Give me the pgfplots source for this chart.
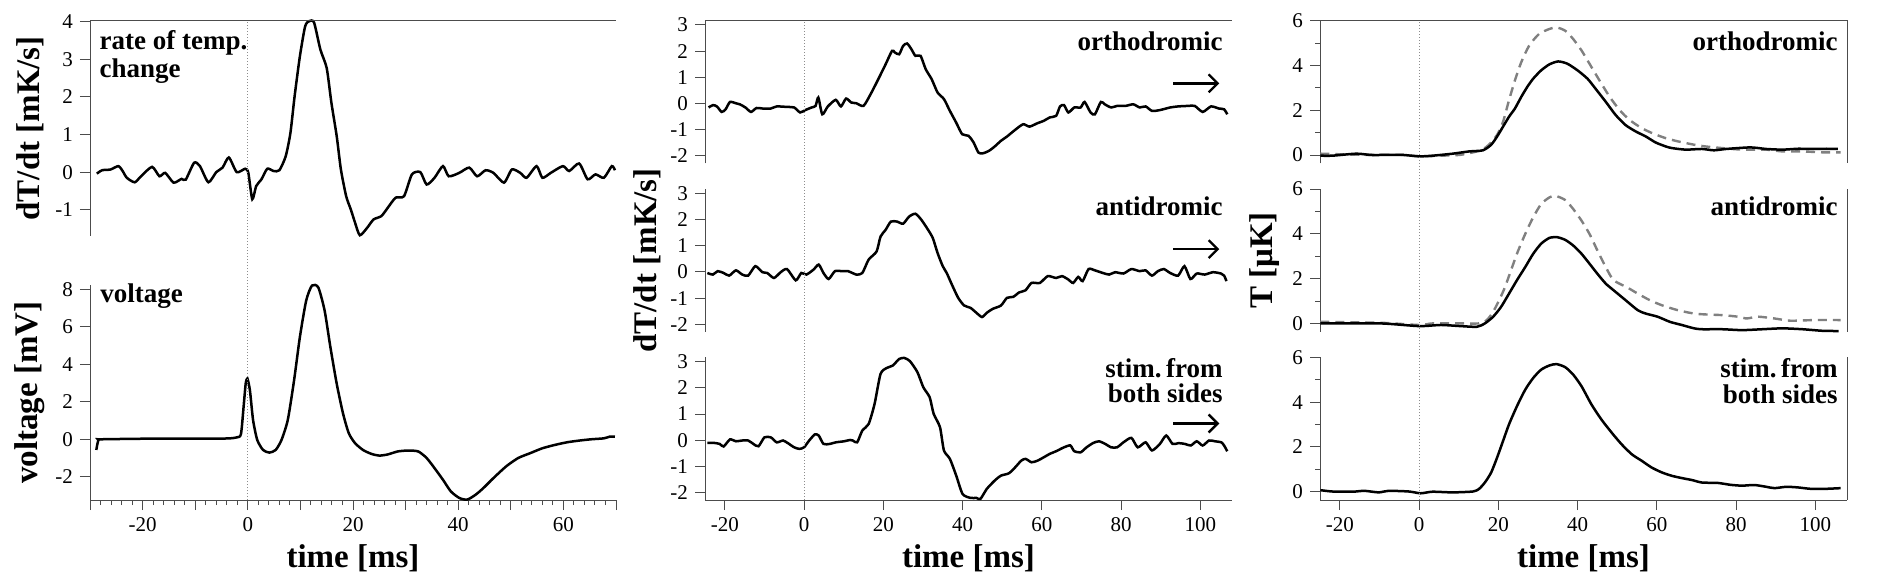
\documentclass[border=0pt]{standalone}
\usepackage{fontspec}
\setmainfont{Liberation Serif}
\usepackage{pgfplots}
\pgfplotsset{compat=1.18}
\usetikzlibrary{arrows.meta}

\pgfplotsset{
  panel/.style={scale only axis, clip=false,
    axis y line*=left,
    axis line style={black!70, line width=0.5pt},
    every tick/.style={black!70, line width=0.5pt},
    tick align=outside, major tick length=5pt, minor tick length=2.5pt,
    tick label style={font=\fontsize{10.5}{12}\selectfont},
    /pgf/number format/assume math mode=true,
    ylabel style={font=\fontsize{16.5}{18}\selectfont\bfseries, anchor=center},
    xlabel style={font=\fontsize{16.5}{18}\selectfont\bfseries,
      at={(axis description cs:0.5,0)}, anchor=center, yshift=-29pt}},
  mid/.style={panel, width=263.5pt, height=71.3pt, xmin=-25, xmax=108,
    ymin=-2.28, ymax=3.16, ytick={-2,...,3}},
  rgt/.style={panel, width=263.5pt, height=71.3pt, xmin=-25, xmax=108,
    ymin=-0.37, ymax=6.0, ytick={0,2,4,6}, minor y tick num=1},
  trace/.style={black, line width=1.25pt, mark=none, smooth, tension=0.4},
  model/.style={black!50, line width=1.2pt, mark=none, smooth, tension=0.4,
    dash pattern=on 4.5pt off 3pt}
}
\tikzset{
  ann/.style={font=\fontsize{13.5}{14}\selectfont\bfseries, inner sep=0pt},
  frameline/.style={black!70, line width=0.5pt},
  dir/.style={black, line width=1.2pt, -{Straight Barb[length=4.5pt,width=9pt]}}
}

\begin{document}
\begin{tikzpicture}
\useasboundingbox (0,0) rectangle (945pt,289.5pt);

% ---------------- left column ----------------
\begin{axis}[panel, at={(45pt,171.5pt)}, width=263pt, height=107.65pt,
  xmin=-30, xmax=70, ymin=-1.7, ymax=4.03, axis x line=none,
  ytick={-1,0,...,4},
  ylabel={dT/dt [mK/s]}, ylabel style={at={(axis description cs:-0.114,0.5)}}]
\addplot[trace] coordinates {
(-28.7,-0.04) (-27.7,0.05) (-26.1,0.07) (-24.6,0.16) (-23.8,0.03) (-23.0,-0.15)
(-21.5,-0.27) (-20.3,-0.11) (-18.2,0.14) (-16.8,-0.11) (-15.7,-0.02) (-14.1,-0.28)
(-12.6,-0.18) (-11.8,-0.2) (-10.2,0.25) (-9.1,0.16) (-7.5,-0.27) (-6.0,0.0)
(-4.8,0.12) (-3.6,0.39) (-2.1,0.0) (-0.5,0.09) (0.1,-0.02) (0.85,-0.72)
(1.6,-0.37) (2.6,-0.19) (3.7,0.09) (4.9,0.03) (6.0,0.05) (7.2,0.42) (8.1,1.04)
(8.9,2.02) (9.9,3.08) (10.9,3.88) (11.7,4.02) (12.6,3.98) (13.8,3.26) (15.0,2.77)
(15.9,1.84) (16.9,0.96) (17.7,0.07) (18.7,-0.64) (19.6,-1.0) (20.4,-1.35)
(21.3,-1.68) (22.7,-1.48) (23.9,-1.26) (25.4,-1.17) (26.6,-0.95) (28.1,-0.68)
(29.7,-0.64) (31.2,-0.06) (32.8,0.0) (34.0,-0.33) (35.5,-0.15) (37.1,0.16)
(38.2,-0.11) (40.2,-0.02) (42.1,0.12) (43.6,-0.11) (45.2,0.05) (46.7,-0.02)
(48.7,-0.28) (50.2,0.07) (51.8,-0.02) (53.0,-0.15) (54.9,0.16) (56.0,-0.15)
(57.6,-0.02) (59.9,0.16) (61.1,0.03) (63.0,0.23) (64.6,-0.19) (66.1,-0.06)
(67.7,-0.15) (69.2,0.16) (69.8,0.05)};
\draw[frameline] (rel axis cs:0,1) -- (rel axis cs:1,1);
\node[ann, anchor=base west] at (rel axis cs:0.0175,0.864) {rate of temp.};
\node[ann, anchor=base west] at (rel axis cs:0.0175,0.738) {change};
\coordinate (zLtop) at (axis cs:0,4.03);
\end{axis}

\begin{axis}[panel, at={(45pt,39.5pt)}, width=263pt, height=107.5pt,
  xmin=-30, xmax=70, ymin=-3.24, ymax=8.23, axis x line*=bottom,
  ytick={-2,0,...,8},
  xtick={-30,-20,...,70}, xticklabels={,-20,,0,,20,,40,,60,},
  minor x tick num=4,
  xlabel={time [ms]},
  ylabel={voltage [mV]}, ylabel style={at={(axis description cs:-0.114,0.5)}}]
\addplot[trace] coordinates {
(-28.8,-0.57) (-28.4,-0.04) (-27.7,0) (-16.0,0.04) (-4.4,0.04) (-2.1,0.1)
(-1.3,0.28) (-0.8,1.73) (-0.4,2.97) (-0.08,3.24) (0.4,2.62) (1.0,1.03)
(1.8,-0.04) (2.9,-0.57) (4.1,-0.71) (5.3,-0.57) (6.4,-0.04) (7.6,1.03)
(8.8,3.15) (9.9,5.45) (11.1,7.4) (12.2,8.2) (13.4,8.1) (14.6,6.87) (15.7,4.92)
(16.9,2.97) (18.1,1.38) (19.2,0.32) (20.4,-0.21) (21.9,-0.57) (23.5,-0.78)
(25.0,-0.87) (26.6,-0.81) (28.5,-0.65) (30.5,-0.6) (32.4,-0.65) (34.0,-1.0)
(35.5,-1.54) (37.1,-2.16) (38.6,-2.78) (40.2,-3.13) (41.7,-3.22) (43.3,-2.96)
(44.8,-2.6) (46.7,-2.07) (49.1,-1.45) (51.4,-1.0) (53.7,-0.74) (56.0,-0.48)
(58.4,-0.3) (60.7,-0.16) (63.0,-0.07) (65.3,0) (67.7,0.05) (68.8,0.14) (69.8,0.14)};
\node[ann, anchor=base west] at (rel axis cs:0.019,0.918) {voltage};
\coordinate (zLbot) at (axis cs:0,-3.24);
\end{axis}
\draw[black!45, densely dotted, line width=0.5pt] (zLbot) -- (zLtop);

% ---------------- middle column ----------------
\begin{axis}[mid, at={(352.5pt,207.85pt)}, axis x line=none]
\addplot[trace] coordinates {
(-24.1,-0.15) (-23.0,-0.06) (-22.0,-0.11) (-20.8,-0.32) (-19.8,-0.22) (-18.7,0.06)
(-17.2,0.01) (-16.2,-0.03) (-14.8,-0.15) (-13.4,-0.32) (-12.0,-0.17) (-10.5,-0.19)
(-8.4,-0.19) (-6.9,-0.11) (-4.3,-0.13) (-2.5,-0.15) (-1.0,-0.34) (0.3,-0.25)
(1.9,-0.15) (2.9,-0.09) (3.6,0.23) (4.6,-0.41) (6.0,-0.11) (8.0,0.14) (9.3,-0.11)
(10.6,0.19) (11.9,0.04) (13.2,0.01) (15.0,-0.09) (16.8,0.36) (18.3,0.8)
(20.4,1.44) (22.2,2.01) (22.9,1.95) (24.0,1.88) (25.0,2.2) (26.0,2.29)
(27.1,2.07) (28.1,1.82) (29.4,1.82) (30.7,1.31) (32.2,0.93) (33.7,0.42)
(35.3,0.17) (36.8,-0.28) (38.4,-0.73) (39.9,-1.17) (41.5,-1.23) (42.8,-1.49)
(44.0,-1.87) (45.1,-1.9) (46.6,-1.81) (48.1,-1.64) (49.7,-1.42) (51.2,-1.26)
(53.3,-1.0) (55.3,-0.79) (56.9,-0.88) (58.9,-0.75) (60.5,-0.66) (62.0,-0.53)
(63.6,-0.47) (64.6,-0.11) (65.6,-0.06) (66.7,-0.34) (68.2,-0.15) (69.8,-0.15)
(70.8,0.06) (72.3,-0.34) (73.4,-0.41) (74.9,0.06) (75.9,-0.03) (77.5,-0.15)
(79.0,-0.09) (81.1,-0.09) (83.1,-0.03) (84.7,-0.15) (86.2,-0.11) (87.8,-0.28)
(89.8,-0.25) (92.4,-0.15) (94.4,-0.11) (97.0,-0.09) (98.6,-0.09) (100.6,-0.32)
(102.7,-0.11) (104.7,-0.19) (106.0,-0.22) (106.8,-0.41)};
\draw[frameline] (rel axis cs:0,1) -- (rel axis cs:1,1);
\node[ann, anchor=base east] at (rel axis cs:0.983,0.792) {orthodromic};
\draw[dir] (axis cs:93.2,0.77) -- (axis cs:104.8,0.77);
\coordinate (zMtop) at (axis cs:0,3.16);
\end{axis}

\begin{axis}[mid, at={(352.5pt,123.65pt)}, axis x line=none,
  ylabel={dT/dt [mK/s]}, ylabel style={at={(axis description cs:-0.110,0.5)}}]
\addplot[trace] coordinates {
(-24.4,-0.04) (-23.0,-0.1) (-21.8,0.03) (-20.3,-0.04) (-18.9,-0.14) (-17.2,0.06)
(-15.6,-0.1) (-14.1,-0.14) (-12.3,0.22) (-10.5,-0.01) (-9.3,-0.04) (-7.6,-0.23)
(-5.9,-0.01) (-4.3,0.11) (-2.1,-0.32) (-0.7,-0.04) (0.6,-0.1) (2.4,0.09)
(3.7,0.28) (4.9,-0.04) (6.2,-0.27) (7.8,0.03) (9.6,0.03) (11.1,0.03) (13.2,-0.1)
(14.7,-0.04) (16.3,0.47) (18.3,0.78) (19.3,1.35) (20.6,1.61) (21.9,1.92)
(23.5,1.92) (25.0,1.84) (26.5,2.11) (28.1,2.22) (29.6,1.99) (31.2,1.63)
(32.5,1.29) (33.7,0.72) (35.0,0.22) (36.0,-0.04) (37.3,-0.48) (38.9,-0.99)
(40.4,-1.28) (42.0,-1.37) (43.5,-1.56) (44.9,-1.72) (46.1,-1.56) (47.6,-1.41)
(49.7,-1.28) (51.2,-0.99) (52.8,-0.95) (54.3,-0.78) (55.9,-0.7) (57.4,-0.42)
(59.5,-0.42) (61.5,-0.16) (63.6,-0.23) (65.1,-0.16) (66.7,-0.29) (67.9,-0.42)
(69.2,-0.19) (70.3,-0.35) (71.8,0.11) (73.4,0.06) (75.4,-0.04) (77.0,-0.1)
(78.5,-0.01) (80.6,-0.06) (82.6,0.11) (84.7,0.03) (86.2,0.06) (87.8,-0.14)
(89.3,0.03) (90.8,0.11) (92.4,-0.04) (94.4,-0.14) (96.0,0.22) (97.5,-0.27)
(99.1,-0.06) (101.1,-0.1) (103.2,-0.01) (105.2,-0.06) (106.0,-0.14) (106.6,-0.35)};
\node[ann, anchor=base east] at (rel axis cs:0.983,0.816) {antidromic};
\draw[dir] (axis cs:93.2,0.87) -- (axis cs:104.8,0.87);
\end{axis}

\begin{axis}[mid, at={(352.5pt,39.5pt)}, axis x line*=bottom,
  xtick={-20,0,...,100}, xlabel={time [ms]}]
\addplot[trace] coordinates {
(-24.4,-0.1) (-22.8,-0.1) (-21.3,-0.14) (-20.3,-0.24) (-18.7,0.03) (-17.2,-0.04)
(-15.6,-0.01) (-14.1,-0.01) (-12.8,-0.14) (-11.5,-0.23) (-10.0,0.11) (-8.4,0.11)
(-6.9,-0.08) (-5.3,-0.01) (-4.1,-0.11) (-2.5,-0.27) (-1.2,-0.33) (0.0,-0.27)
(1.3,-0.01) (2.7,0.22) (3.7,0.18) (4.9,-0.14) (6.5,-0.14) (8.0,-0.08) (10.1,-0.04)
(11.6,0.01) (12.3,-0.01) (13.4,-0.08) (14.7,0.37) (16.3,0.62) (17.8,1.39)
(19.3,2.53) (20.9,2.76) (22.4,2.85) (24.0,3.1) (25.3,3.14) (26.7,3.02) (28.6,2.6)
(30.1,2.02) (31.7,1.64) (32.7,1.01) (34.3,0.5) (35.3,-0.39) (36.8,-0.71)
(38.4,-1.35) (40.0,-2.05) (42.0,-2.2) (43.5,-2.2) (44.5,-2.24) (46.1,-1.86)
(48.1,-1.54) (49.7,-1.35) (51.7,-1.26) (53.3,-1.03) (54.8,-0.78) (55.9,-0.71)
(57.4,-0.84) (58.9,-0.78) (60.5,-0.65) (62.0,-0.52) (63.6,-0.42) (65.6,-0.27)
(67.2,-0.2) (68.2,-0.42) (69.8,-0.46) (71.3,-0.27) (72.9,-0.11) (74.4,-0.04)
(76.0,-0.14) (77.5,-0.27) (79.0,-0.27) (80.6,-0.08) (82.6,0.09) (84.2,-0.27)
(86.2,-0.08) (87.8,-0.39) (89.8,-0.14) (91.4,0.18) (93.0,-0.14) (94.5,-0.11)
(96.1,-0.14) (97.6,-0.2) (99.1,-0.04) (100.6,-0.2) (102.2,-0.01) (103.7,-0.04)
(105.3,-0.08) (106.0,-0.2) (106.8,-0.42)};
\node[ann, anchor=base east] at (rel axis cs:0.983,0.858) {stim.\,from};
\node[ann, anchor=base east] at (rel axis cs:0.983,0.684) {both sides};
\draw[dir] (axis cs:93.2,0.64) -- (axis cs:104.8,0.64);
\coordinate (zMbot) at (axis cs:0,-2.28);
\end{axis}
\draw[black!45, densely dotted, line width=0.5pt] (zMbot) -- (zMtop);

% ---------------- right column ----------------
\begin{axis}[rgt, at={(660pt,207.85pt)}, axis x line=none]
\addplot[model] coordinates {
(-24.9,0.06) (-14.8,0.01) (-4.7,0.01) (0.4,-0.06) (5.5,-0.03) (10.5,0.01)
(15.6,0.21) (17.6,0.46) (19.7,0.9) (21.2,1.49) (22.7,2.45) (24.2,3.34) (25.8,4.15)
(27.8,4.89) (30.3,5.41) (32.9,5.63) (34.7,5.7) (36.9,5.55) (38.9,5.18) (41.0,4.67)
(43.0,4.08) (45.5,3.34) (48.1,2.6) (50.6,2.01) (53.1,1.57) (56.2,1.2) (59.2,0.95)
(62.3,0.75) (65.3,0.61) (69.4,0.46) (72.4,0.38) (76.5,0.31) (81.5,0.24)
(87.6,0.24) (91.7,0.16) (96.8,0.16) (101.8,0.12) (106.4,0.12)};
\addplot[trace] coordinates {
(-24.9,-0.03) (-21.9,-0.03) (-15.8,0.06) (-11.8,0) (-4.7,0.01) (0,-0.06)
(3.4,-0.03) (8.5,0.06) (12.6,0.16) (16.1,0.21) (18.2,0.46) (19.7,0.83) (21.2,1.27)
(22.7,1.71) (24.2,2.08) (25.8,2.6) (27.3,3.04) (28.8,3.41) (30.8,3.78) (32.9,4.05)
(35.1,4.18) (37.4,4.08) (40.0,3.78) (42.5,3.41) (44.5,2.97) (47.1,2.38) (49.6,1.79)
(52.1,1.34) (54.7,1.05) (57.2,0.83) (59.7,0.56) (62.3,0.38) (63.8,0.31)
(67.3,0.24) (71.4,0.27) (74.4,0.21) (77.5,0.27) (83.6,0.34) (87.6,0.27)
(91.7,0.24) (95.7,0.28) (99.8,0.27) (102.8,0.28) (105.7,0.27)};
\draw[frameline] (rel axis cs:0,1) -- (rel axis cs:1,1) -- (rel axis cs:1,0);
\node[ann, anchor=base east] at (rel axis cs:0.983,0.79) {orthodromic};
\coordinate (zRtop) at (axis cs:0,6.0);
\end{axis}

\begin{axis}[rgt, at={(660pt,123.65pt)}, axis x line=none,
  ylabel={T [μK]}, ylabel style={at={(axis description cs:-0.106,0.5)}}]
\addplot[model] coordinates {
(-24.9,0.07) (-9.7,0.03) (0,-0.07) (3.4,0) (10.5,0) (15.1,0) (17.1,0.15)
(18.7,0.52) (20.2,1.04) (21.7,1.63) (24.7,3.11) (26.8,4.0) (28.8,4.74)
(30.8,5.33) (32.9,5.63) (34.4,5.7) (36.9,5.51) (38.9,5.11) (41.0,4.59)
(43.0,4.0) (45.0,3.26) (47.1,2.52) (49.1,1.93) (52.6,1.6) (55.2,1.33)
(58.2,1.04) (61.3,0.81) (65.3,0.59) (69.4,0.44) (72.4,0.4) (76.5,0.37)
(80.5,0.3) (82.6,0.22) (85.6,0.3) (89.7,0.22) (93.7,0.12) (99.8,0.15) (106.4,0.15)};
\addplot[trace] coordinates {
(-24.9,0) (-9.7,0) (0,-0.12) (5.5,-0.07) (10.5,-0.12) (14.6,-0.15) (16.6,0)
(18.7,0.3) (20.7,0.74) (22.7,1.33) (24.7,1.93) (26.8,2.52) (28.8,3.11)
(30.8,3.56) (32.9,3.82) (34.9,3.85) (36.9,3.73) (38.9,3.48) (41.0,3.11)
(43.0,2.67) (45.0,2.22) (47.1,1.78) (49.1,1.48) (52.1,1.04) (55.2,0.59)
(57.2,0.44) (60.2,0.3) (63.3,0.07) (66.3,-0.07) (69.4,-0.22) (71.4,-0.26)
(76.5,-0.26) (81.5,-0.3) (86.6,-0.26) (91.7,-0.22) (96.8,-0.26) (101.8,-0.33)
(105.9,-0.34)};
\draw[frameline] (rel axis cs:1,1) -- (rel axis cs:1,0);
\node[ann, anchor=base east] at (rel axis cs:0.983,0.816) {antidromic};
\end{axis}

\begin{axis}[rgt, at={(660pt,39.5pt)}, axis x line*=bottom,
  xtick={-20,0,...,100}, xlabel={time [ms]}]
\addplot[trace] coordinates {
(-24.9,0.07) (-21.9,0.01) (-16.8,0) (-13.8,0.04) (-10.2,-0.03) (-7.7,0.04)
(-2.6,0.01) (0.4,-0.07) (3.4,0) (8.5,-0.03) (13.6,0.01) (15.1,0.12) (16.6,0.41)
(18.2,0.86) (19.7,1.53) (21.2,2.27) (22.7,3.01) (24.7,3.82) (26.8,4.56)
(28.8,5.08) (30.8,5.45) (32.9,5.64) (34.7,5.7) (36.9,5.56) (38.9,5.23)
(41.0,4.71) (43.5,3.9) (46.0,3.23) (48.6,2.64) (51.1,2.12) (53.7,1.67)
(56.2,1.38) (58.7,1.08) (61.3,0.86) (63.8,0.71) (66.3,0.61) (68.9,0.52)
(71.4,0.41) (75.5,0.39) (78.5,0.31) (81.5,0.27) (84.6,0.3) (87.6,0.22)
(89.7,0.16) (92.7,0.22) (95.7,0.19) (98.8,0.13) (102.8,0.13) (106.4,0.16)};
\draw[frameline] (rel axis cs:1,1) -- (rel axis cs:1,0);
\node[ann, anchor=base east] at (rel axis cs:0.983,0.86) {stim.\,from};
\node[ann, anchor=base east] at (rel axis cs:0.983,0.677) {both sides};
\coordinate (zRbot) at (axis cs:0,-0.37);
\end{axis}
\draw[black!45, densely dotted, line width=0.5pt] (zRbot) -- (zRtop);
\end{tikzpicture}
\end{document}
